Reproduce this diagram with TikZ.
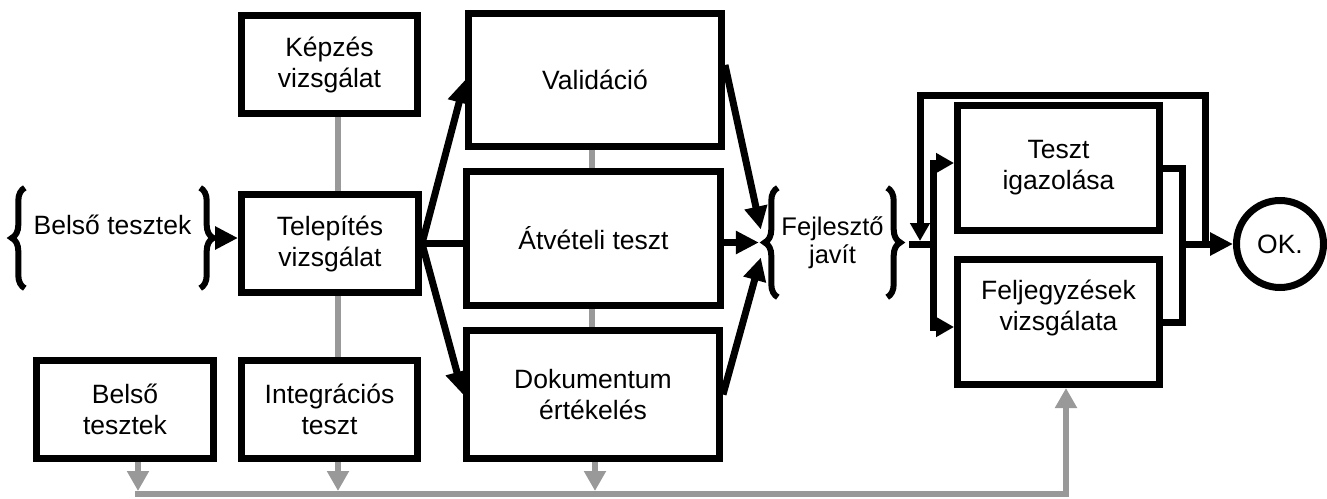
\documentclass[tikz,border=0pt]{standalone}
\usepackage{fontspec}
\setmainfont{Liberation Sans}
\usetikzlibrary{arrows.meta,decorations.pathreplacing,backgrounds,calc}
\definecolor{linegray}{RGB}{153,153,153}
\begin{document}
\begin{tikzpicture}[x=1pt,y=-1pt,
  box/.style={draw, line width=7pt, align=center, inner sep=0pt, fill=white, font=\fontsize{26.5}{31}\selectfont},
  conn/.style={line width=7pt, -{Triangle[length=23pt,width=22pt]}},
  shortconn/.style={line width=7pt, -{Triangle[length=18pt,width=19pt]}},
  link/.style={line width=7pt},
  glink/.style={draw=linegray, line width=6.5pt},
  garrow/.style={glink, -{Triangle[length=20pt,width=21pt]}},
  bracestyle/.style={decorate, decoration={brace, amplitude=13pt}, line width=6pt},
  lbl/.style={align=center, inner sep=0pt}
]
\useasboundingbox (0,0) rectangle (1327,498);

% boxes
\node[box, minimum width=176pt, minimum height=98pt] (kep) at (329.5,64.5) {Képzés\\vizsgálat};
\node[box, minimum width=177pt, minimum height=98pt] (tel) at (330,243.5) {Telepítés\\vizsgálat};
\node[box, minimum width=177pt, minimum height=98pt] (bel) at (125,409.5) {Belső\\tesztek};
\node[box, minimum width=176pt, minimum height=98pt] (int) at (329.5,409.5) {Integrációs\\teszt};
\node[box, minimum width=253pt, minimum height=133pt] (val) at (595,80) {Validáció};
\node[box, minimum width=254pt, minimum height=134pt] (atv) at (593.5,238.5) {Átvételi teszt};
\node[box, minimum width=253pt, minimum height=128pt] (dok) at (593,394.5) {Dokumentum\\értékelés};
\node[box, minimum width=202pt, minimum height=125pt] (tes) at (1058.5,168) {Teszt\\igazolása};
\node[box, minimum width=202pt, minimum height=125pt] (fel) at (1058.5,322) {};
\node[lbl, font=\fontsize{26.5}{31}\selectfont] (feltxt) at (1058.5,308) {Feljegyzések\\vizsgálata};
\node[box, circle, minimum size=87pt] (ok) at (1280,244) {OK.};

% brace groups
\node[lbl, minimum width=175pt, minimum height=100pt, text depth=26pt, font=\fontsize{26.5}{31}\selectfont] (bt) at (112.5,238) {Belső tesztek};
\draw[bracestyle] (bt.south west) -- (bt.north west);
\draw[bracestyle] (bt.north east) -- (bt.south east);
\node[lbl, minimum width=109pt, minimum height=109pt, font=\fontsize{25.5}{28}\selectfont] (fj) at (832.5,242.5) {Fejlesztő\\javít};
\draw[bracestyle] (fj.south west) -- (fj.north west);
\draw[bracestyle] (fj.north east) -- (fj.south east);

% gray connectors
\begin{scope}[on background layer]
\coordinate (xg1) at (338,0);
\coordinate (xg2) at (592,0);
\draw[glink] (xg1 |- kep.south) -- (xg1 |- tel.north);
\draw[glink] (xg1 |- tel.south) -- (xg1 |- int.north);
\draw[glink] (xg2 |- val.south) -- (xg2 |- atv.north);
\draw[glink] (xg2 |- atv.south) -- (xg2 |- dok.north);
\coordinate (bus1) at (138,491);
\coordinate (bus2) at (338,491);
\coordinate (bus3) at (595,491);
\coordinate (bus4) at (1066,494);
\coordinate (busstart) at (135,494);
\draw[garrow] (bus1 |- bel.south) -- (bus1);
\draw[garrow] (bus2 |- int.south) -- (bus2);
\draw[garrow] (bus3 |- dok.south) -- (bus3);
\draw[garrow] (busstart) -- (bus4) -- (bus4 |- fel.south);
\end{scope}

% black connectors
\coordinate (btip) at ($(bt.east)+(15,0)$);
\draw[conn] (btip) -- (btip -| tel.west);
\draw[conn] (tel.east) -- (val.west);
\draw[link] (tel.east) -- (tel.east -| atv.west);
\draw[conn] (tel.east) -- (dok.west);

\coordinate (fjtip) at ($(fj.west)+(-15,0)$);
\draw[conn] ($(val.east)+(0,-15)$) -- ($(fjtip)+(-2,-13)$);
\draw[conn] (atv.east |- fjtip) -- ($(fjtip)+(-4,0)$);
\draw[conn] (dok.east) -- ($(fjtip)+(-2,15)$);

\coordinate (fjout) at (909,244);
\coordinate (jd) at (933,244);
\draw[link] (fjout) -- (jd);
\draw[shortconn] (jd) |- ($(tes.west)+(0,-5)$);
\draw[shortconn] (jd) |- ($(fel.west)+(0,5)$);

\coordinate (rc) at (1182,244);
\coordinate (jr) at (1205,244);
\coordinate (looptop) at (920,95);
\coordinate (jl) at (920,241);
\draw[link] (tes.east) -| (rc) |- (fel.east);
\draw[conn] (rc) -- (ok.west);
\draw[shortconn] (jr) |- (looptop) -- (jl);
\end{tikzpicture}
\end{document}
